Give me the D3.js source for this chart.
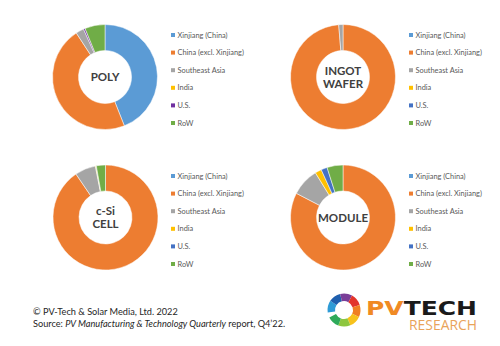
<!DOCTYPE html>
<html><head><meta charset="utf-8">
<script src="https://cdn.jsdelivr.net/npm/d3@7"></script>
<style>body{margin:0;background:#fff}svg{display:block}</style>
</head><body>
<script>
const regions = ["Xinjiang (China)", "China (excl. Xinjiang)", "Southeast Asia", "India", "U.S.", "RoW"];
const colors = ["#5B9BD5", "#ED7D31", "#A5A5A5", "#FFC000", "#4472C4", "#70AD47"];
const polyColors = ["#5B9BD5", "#ED7D31", "#A5A5A5", "#FFC000", "#7030A0", "#70AD47"];
const segments = ["POLY", "INGOT WAFER", "c-Si CELL", "MODULE"];
const polyValues   = [44.0, 46.8, 2.5, 0.0, 0.5, 6.2];
const waferValues  = [0.0, 98.7, 1.3, 0.0, 0.0, 0.0];
const cellValues   = [0.0, 90.5, 6.4, 0.2, 0.1, 2.8];
const moduleValues = [0.0, 82.6, 8.6, 2.0, 1.9, 4.9];
const footerLines = ["© PV-Tech & Solar Media, Ltd. 2022"];

const W = 500, H = 346;
const svg = d3.select("body").append("svg").attr("width", W).attr("height", H);

const panels = [
  {label: ["POLY"], values: polyValues, cols: polyColors, cx: 105, cy: 77, lx: 173, ly: 35},
  {label: ["INGOT", "WAFER"], values: waferValues, cols: colors, cx: 343, cy: 77, lx: 411, ly: 35},
  {label: ["c-Si", "CELL"], values: cellValues, cols: colors, cx: 105.5, cy: 217.5, lx: 173, ly: 176},
  {label: ["MODULE"], values: moduleValues, cols: colors, cx: 343, cy: 217.5, lx: 411, ly: 176}
];

const pie = d3.pie().sort(null).value(d => d);
const arc = d3.arc().innerRadius(26.5).outerRadius(52.5);
const font = "Lato, 'Open Sans', sans-serif";

panels.forEach(p => {
  const g = svg.append("g").attr("transform", `translate(${p.cx},${p.cy})`);
  g.selectAll("path").data(pie(p.values)).join("path")
    .attr("d", arc).attr("fill", (d, i) => p.cols[i])
    .attr("stroke", "#fff").attr("stroke-width", d => d.data > 0 ? 0.5 : 0);
  const n = p.label.length;
  p.label.forEach((t, i) => {
    g.append("text").text(t).attr("text-anchor", "middle")
      .attr("x", 0).attr("y", (i - (n - 1) / 2) * 13 + 4.2)
      .attr("font-family", font).attr("font-weight", "bold").attr("font-size", 11.5)
      .attr("fill", "#404040");
  });
  const leg = svg.append("g").attr("transform", `translate(${p.lx},${p.ly})`);
  const step = 17.6;
  const yS = d3.scalePoint().domain(regions).range([0, step * 5]);
  regions.forEach((r, i) => {
    leg.append("rect").attr("x", -2).attr("y", yS(r) - 2).attr("width", 4).attr("height", 4).attr("fill", p.cols[i]);
    leg.append("text").text(r).attr("x", 4.5).attr("y", yS(r) + 2.5)
      .attr("font-family", font).attr("font-size", 7.4).attr("fill", "#595959");
  });
});

// Footer
const ft = svg.append("g").attr("font-family", font).attr("font-size", 9.2).attr("fill", "#262626");
ft.append("text").attr("x", 33).attr("y", 315).text(footerLines[0]);
const t2 = ft.append("text").attr("x", 33).attr("y", 326.5);
t2.append("tspan").text("Source: ");
t2.append("tspan").attr("font-style", "italic").text("PV Manufacturing & Technology Quarterly");
t2.append("tspan").text(" report, Q4’22.");

// Logo
const logo = svg.append("g").attr("transform", "translate(344,310)");
const ringCols = ["#2E9BD6", "#1F5FAE", "#7A3E98", "#E2352B", "#F07F22", "#F7C21C", "#8DC63F", "#2EAA5A"];
const ringArc = d3.arc().innerRadius(9).outerRadius(16.5);
const ringPie = d3.pie().sort(null).value(1).startAngle(-Math.PI * 0.55).endAngle(Math.PI * 1.35);
logo.selectAll("path").data(ringPie(ringCols)).join("path")
  .attr("d", ringArc).attr("fill", (d, i) => ringCols[i]);
svg.append("text").attr("x", 366).attr("y", 314.5).attr("font-family", "'DejaVu Sans', sans-serif")
  .attr("font-weight", "bold").attr("font-size", 19).attr("textLength", 111).attr("lengthAdjust", "spacingAndGlyphs")
  .html('<tspan fill="#F08A24">PV</tspan><tspan fill="#1a1a1a">TECH</tspan>');
svg.append("text").attr("x", 409).attr("y", 329.5).attr("font-family", "'Open Sans', sans-serif")
  .attr("font-size", 14).attr("fill", "#E9A35A").attr("textLength", 68).attr("lengthAdjust", "spacingAndGlyphs")
  .text("RESEARCH");
</script>
</body></html>
